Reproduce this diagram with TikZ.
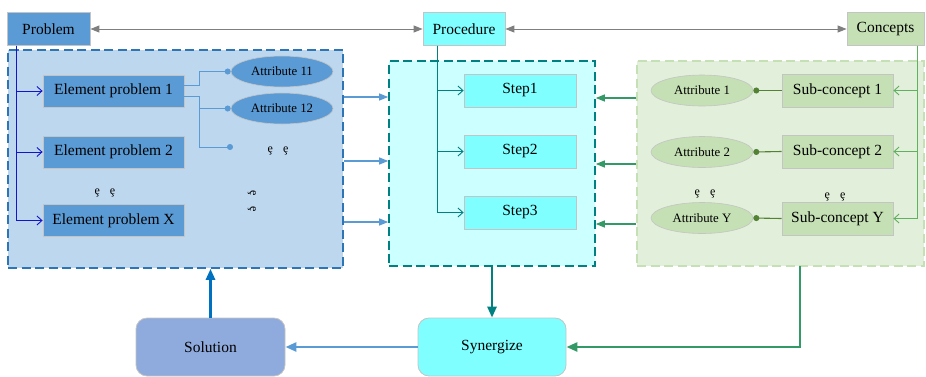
\documentclass[tikz,border=0pt]{standalone}
\usepackage{fontspec}
\setmainfont{Liberation Serif}
\usetikzlibrary{arrows.meta,shapes.geometric}
\definecolor{pblue}{HTML}{5B9BD5}
\definecolor{gbluefill}{HTML}{BDD7EE}
\definecolor{gblueline}{HTML}{2E75B6}
\definecolor{cyanbox}{HTML}{7FFFFF}
\definecolor{cyanfill}{HTML}{CCFFFF}
\definecolor{tealc}{HTML}{008080}
\definecolor{gbox}{HTML}{C5E0B4}
\definecolor{gfill}{HTML}{E2EFDA}
\definecolor{solfill}{HTML}{8FAADC}
\definecolor{darkgreen}{HTML}{548235}
\definecolor{midgreen}{HTML}{5FB05F}
\definecolor{seagreen}{HTML}{339966}
\definecolor{grayc}{HTML}{7F7F7F}
\definecolor{treeblue}{HTML}{1414CC}
\definecolor{solblue}{HTML}{0070C0}
\definecolor{boxborder}{HTML}{C4C4C4}
\begin{document}
\begin{tikzpicture}[x=1pt,y=-1pt,
  box/.style={draw=boxborder, line width=0.8pt, inner sep=0pt, font=\fontsize{15.5}{18}\selectfont},
  rbox/.style={box, rounded corners=11pt},
  grp/.style={draw, line width=1.6pt, dash pattern=on 9pt off 4.5pt, inner sep=0pt},
  ell/.style={ellipse, draw=boxborder, line width=0.6pt, inner sep=0pt, minimum width=102pt, minimum height=31pt, font=\fontsize{12.8}{15}\selectfont},
  dotsn/.style={inner sep=0pt, font=\fontsize{12}{14}\selectfont},
  openarr/.style={-{Straight Barb[length=5pt,width=9pt]}, line width=0.9pt},
  fillarr/.style={-{Triangle[length=9pt,width=7pt]}, line width=1.2pt},
  bigarr/.style={-{Triangle[length=11pt,width=9pt]}, line width=2.6pt},
  dotstart/.style={{Circle[length=6pt]}-, line width=1.1pt},
  dotend/.style={-{Circle[length=6pt]}, line width=1pt}
]
\useasboundingbox (0,0) rectangle (926,376);

% groups
\node[grp, draw=gblueline, fill=gbluefill, minimum width=335pt, minimum height=218pt] (gb) at (175.5,159) {};
\node[grp, draw=tealc, fill=cyanfill, minimum width=206pt, minimum height=205pt] (gc) at (492,163.5) {};
\node[grp, draw=gbox, fill=gfill, minimum width=287pt, minimum height=205pt, line width=1.3pt] (gg) at (780.5,163.5) {};

% top boxes
\node[box, fill=pblue, minimum width=83pt, minimum height=33pt] (prob) at (48.5,29) {Problem};
\node[box, fill=cyanbox, minimum width=82pt, minimum height=33pt] (proc) at (464,29) {Procedure};
\node[box, fill=gbox, minimum width=77pt, minimum height=33pt] (conc) at (885.5,29) {Concepts};

\draw[grayc, line width=1pt, {Triangle[length=9pt,width=7pt]}-{Triangle[length=9pt,width=7pt]}] (prob.east) -- (proc.west);
\draw[grayc, line width=1pt, {Triangle[length=9pt,width=7pt]}-{Triangle[length=9pt,width=7pt]}] (proc.east) -- (conc.west);

% element problems
\node[box, fill=pblue, minimum width=141pt, minimum height=32pt] (ep1) at (113.5,91) {Element problem 1};
\node[box, fill=pblue, minimum width=141pt, minimum height=32pt] (ep2) at (113.5,152) {Element problem 2};
\node[box, fill=pblue, minimum width=141pt, minimum height=32pt] (epx) at (113.5,220.5) {Element problem X};

\coordinate (bt) at (16,45.5);
\draw[treeblue, openarr] (bt) |- (ep1.west);
\draw[treeblue, openarr] (bt) |- (ep2.west);
\draw[treeblue, openarr] (bt) |- (epx.west);

\node[ell, fill=pblue] (a11) at (282,71.5) {Attribute 11};
\node[ell, fill=pblue] (a12) at (282,108.5) {Attribute 12};
\coordinate (j1) at (199,85);
\coordinate (j2) at (199,96);
\coordinate (j3) at (233,147);
\draw[pblue, dotend] (ep1.east |- j1) -- (j1) |- (a11.west);
\draw[pblue, dotend] (ep1.east |- j2) -- (j2) |- (a12.west);
\draw[pblue, dotend] (j2) |- (j3);

\node[dotsn] (d1) at (278,151) {ȩ\hspace{10pt}ȩ};
\node[dotsn] (d2) at (105,193) {ȩ\hspace{10pt}ȩ};
\node[dotsn, rotate=-90] (d3) at (252,193) {ȩ};
\node[dotsn, rotate=-90] (d4) at (252,209) {ȩ};

% blue to cyan arrows
\coordinate (r1) at (0,97);
\coordinate (r2) at (0,161);
\coordinate (r3) at (0,222);
\draw[pblue, fillarr] (gb.east |- r1) -- (gc.west |- r1);
\draw[pblue, fillarr] (gb.east |- r2) -- (gc.west |- r2);
\draw[pblue, fillarr] (gb.east |- r3) -- (gc.west |- r3);

% steps
\node[box, fill=cyanbox, minimum width=112pt, minimum height=33pt] (s1) at (520,90.5) {Step1};
\node[box, fill=cyanbox, minimum width=112pt, minimum height=33pt] (s2) at (520,151.5) {Step2};
\node[box, fill=cyanbox, minimum width=112pt, minimum height=33pt] (s3) at (520,212.5) {Step3};
\coordinate (ct) at (437,45.5);
\draw[tealc, openarr] (ct) |- (s1.west);
\draw[tealc, openarr] (ct) |- (s2.west);
\draw[tealc, openarr] (ct) |- (s3.west);

% concepts
\node[box, fill=gbox, minimum width=111pt, minimum height=33pt] (sc1) at (837.5,90.5) {Sub-concept 1};
\node[box, fill=gbox, minimum width=111pt, minimum height=33pt] (sc2) at (837.5,151.5) {Sub-concept 2};
\node[box, fill=gbox, minimum width=111pt, minimum height=33pt] (scy) at (837.5,218.5) {Sub-concept Y};
\node[ell, fill=gbox] (at1) at (702,90.5) {Attribute 1};
\node[ell, fill=gbox] (at2) at (702,152) {Attribute 2};
\node[ell, fill=gbox] (aty) at (702,218) {Attribute Y};
\draw[darkgreen, dotstart] (at1.east) -- (sc1.west);
\draw[darkgreen, dotstart] (at2.east) -- (sc2.west);
\draw[darkgreen, dotstart] (aty.east) -- (scy.west);
\coordinate (gt) at (917,45.5);
\draw[midgreen, openarr] (gt) |- (sc1.east);
\draw[midgreen, openarr] (gt) |- (sc2.east);
\draw[midgreen, openarr] (gt) |- (scy.east);

\node[dotsn] (d5) at (705,194) {ȩ\hspace{10pt}ȩ};
\node[dotsn] (d6) at (835,197) {ȩ\hspace{10pt}ȩ};

% green to cyan arrows
\coordinate (r4) at (0,98);
\coordinate (r5) at (0,164);
\coordinate (r6) at (0,224);
\draw[seagreen, fillarr] (gg.west |- r4) -- (gc.east |- r4);
\draw[seagreen, fillarr] (gg.west |- r5) -- (gc.east |- r5);
\draw[seagreen, fillarr] (gg.west |- r6) -- (gc.east |- r6);

% bottom
\node[rbox, fill=solfill, minimum width=149pt, minimum height=58pt] (sol) at (210.5,347) {Solution};
\node[rbox, fill=cyanbox, minimum width=148pt, minimum height=58pt] (syn) at (492,347) {Synergize};

\coordinate (gd) at (800,266);
\draw[tealc, bigarr] (gc.south) -- (syn.north);
\draw[seagreen, bigarr] (gd) |- (syn.east);
\draw[pblue, bigarr] (syn.west) -- (sol.east);
\draw[solblue, bigarr] (sol.north) -- (gb.south -| sol.north);
\end{tikzpicture}
\end{document}
